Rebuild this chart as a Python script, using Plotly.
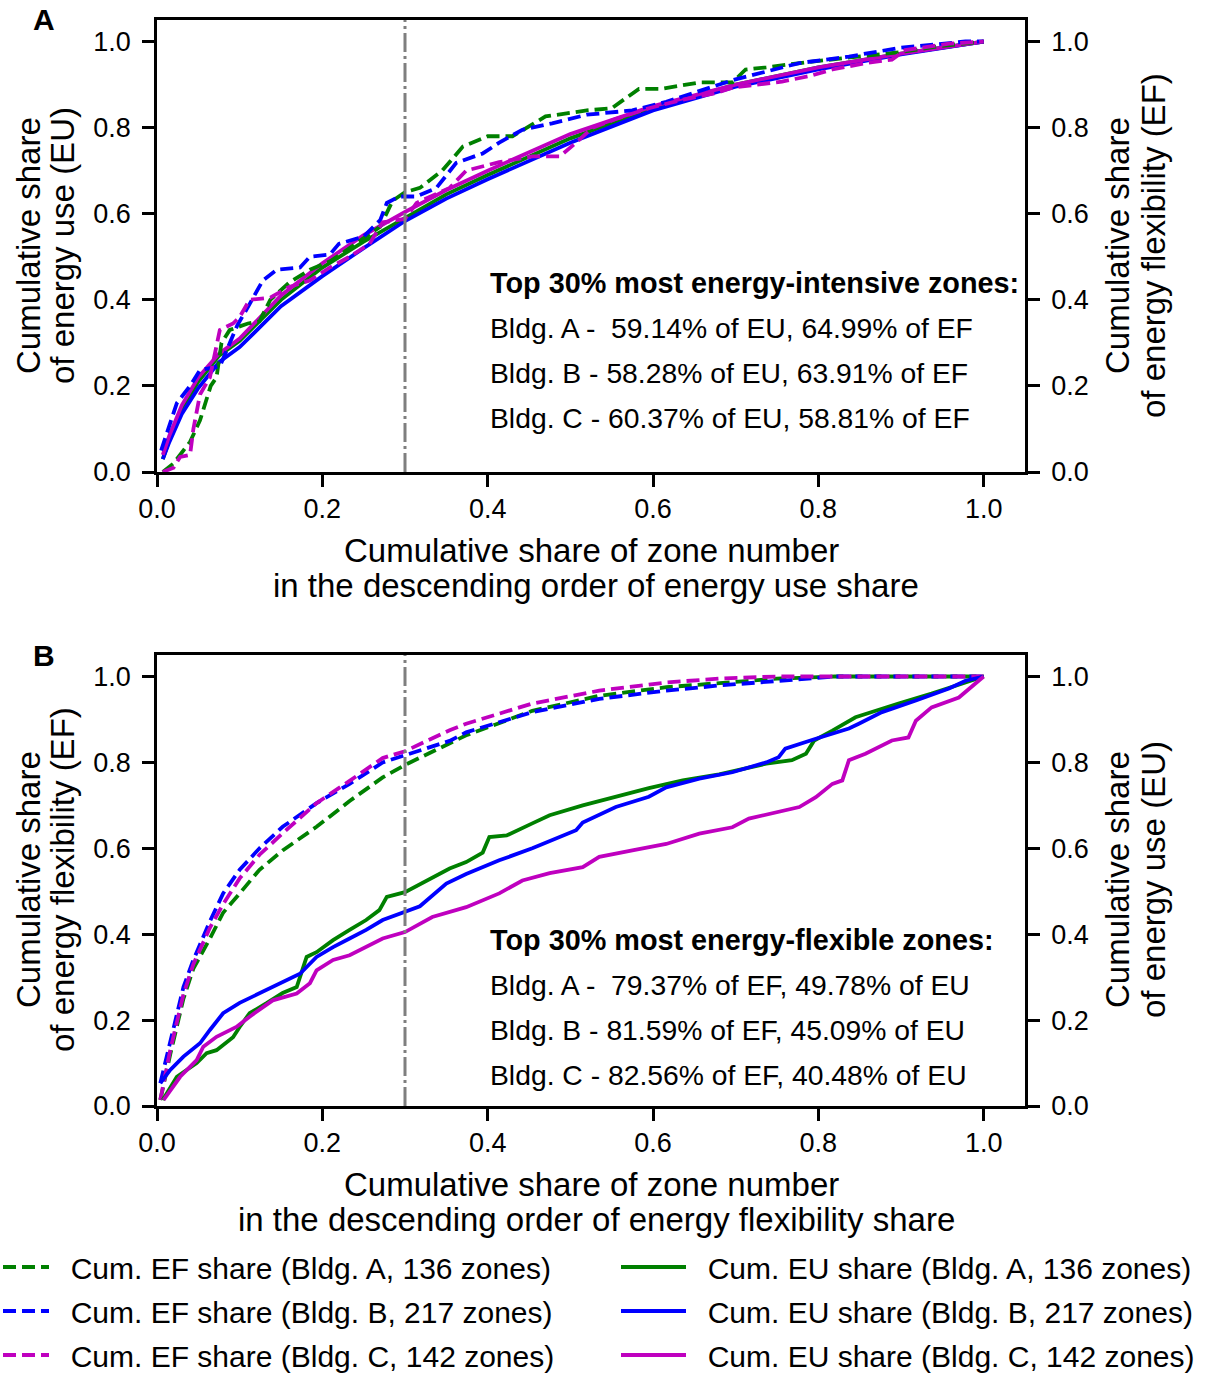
import plotly.graph_objects as go

W, H = 1206, 1375
FONT = "Liberation Sans, Arial, sans-serif"
GREEN, BLUE, MAG = "#008000", "#0000ff", "#bf00bf"

# ---------------- Panel A: EU (solid) ----------------
a_eu_x = [0.007, 0.015, 0.03, 0.05, 0.075, 0.1, 0.15, 0.2, 0.25, 0.3, 0.35, 0.4, 0.5, 0.6, 0.7, 0.8, 0.9, 1.0]
a_eu_A = [0.03, 0.075, 0.145, 0.21, 0.27, 0.305, 0.40, 0.475, 0.535, 0.591, 0.645, 0.69, 0.775, 0.845, 0.90, 0.94, 0.972, 1.0]
a_eu_B = [0.03, 0.07, 0.135, 0.195, 0.255, 0.29, 0.385, 0.455, 0.52, 0.583, 0.635, 0.68, 0.765, 0.84, 0.895, 0.935, 0.97, 1.0]
a_eu_C = [0.04, 0.085, 0.155, 0.22, 0.275, 0.31, 0.41, 0.485, 0.55, 0.604, 0.655, 0.70, 0.785, 0.85, 0.90, 0.94, 0.972, 1.0]

# ---------------- Panel A: EF (dashed) ----------------
a_ef_A_x = [0.007, 0.02, 0.04, 0.052, 0.065, 0.072, 0.078, 0.088, 0.11, 0.124, 0.137, 0.16, 0.185, 0.21, 0.233, 0.27, 0.285, 0.3,
            0.318, 0.345, 0.37, 0.40, 0.43, 0.47, 0.52, 0.55, 0.583, 0.61, 0.656, 0.696, 0.712, 0.737, 0.79, 0.85, 0.897, 0.95, 1.0]
a_ef_A_y = [0.0, 0.02, 0.07, 0.12, 0.20, 0.22, 0.30, 0.33, 0.345, 0.35, 0.40, 0.44, 0.47, 0.49, 0.52, 0.57, 0.63, 0.65,
            0.66, 0.70, 0.756, 0.78, 0.78, 0.826, 0.84, 0.845, 0.89, 0.89, 0.905, 0.905, 0.935, 0.94, 0.953, 0.965, 0.975, 0.99, 1.0]

a_ef_B_x = [0.005, 0.024, 0.04, 0.052, 0.076, 0.097, 0.112, 0.128, 0.145, 0.173, 0.185, 0.209, 0.22, 0.25, 0.27, 0.278, 0.293,
            0.314, 0.338, 0.362, 0.394, 0.414, 0.442, 0.478, 0.52, 0.575, 0.616, 0.656, 0.696, 0.777, 0.837, 0.897, 0.978, 1.0]
a_ef_B_y = [0.05, 0.16, 0.20, 0.237, 0.245, 0.34, 0.39, 0.445, 0.47, 0.475, 0.50, 0.505, 0.53, 0.547, 0.585, 0.625, 0.64,
            0.64, 0.66, 0.718, 0.74, 0.765, 0.795, 0.81, 0.83, 0.84, 0.86, 0.885, 0.91, 0.95, 0.965, 0.985, 1.0, 1.0]

a_ef_C_x = [0.007, 0.02, 0.028, 0.04, 0.044, 0.052, 0.064, 0.076, 0.092, 0.1, 0.112, 0.137, 0.16, 0.185, 0.209, 0.233, 0.257,
            0.273, 0.29, 0.3, 0.314, 0.354, 0.374, 0.414, 0.454, 0.487, 0.507, 0.527, 0.555, 0.595, 0.636, 0.676, 0.696, 0.756,
            0.79, 0.817, 0.857, 0.889, 0.905, 0.958, 1.0]
a_ef_C_y = [0.0, 0.01, 0.035, 0.04, 0.10, 0.18, 0.22, 0.33, 0.345, 0.36, 0.40, 0.405, 0.43, 0.445, 0.475, 0.50, 0.53,
            0.58, 0.585, 0.588, 0.625, 0.66, 0.70, 0.72, 0.733, 0.733, 0.765, 0.80, 0.82, 0.845, 0.865, 0.88, 0.893, 0.907,
            0.92, 0.935, 0.95, 0.958, 0.98, 0.995, 1.0]

# ---------------- Panel B: EF (dashed) ----------------
b_ef_x = [0.004, 0.016, 0.032, 0.044, 0.064, 0.08, 0.1, 0.124, 0.152, 0.193, 0.233, 0.273, 0.3, 0.354, 0.374, 0.454,
          0.535, 0.616, 0.68, 0.75, 0.82, 0.9, 1.0]
b_ef_A = [0.014, 0.12, 0.25, 0.32, 0.39, 0.45, 0.495, 0.55, 0.595, 0.65, 0.71, 0.765, 0.794, 0.845, 0.863, 0.92,
          0.955, 0.975, 0.985, 0.995, 1.0, 1.0, 1.0]
b_ef_B = [0.053, 0.153, 0.277, 0.34, 0.43, 0.495, 0.55, 0.60, 0.65, 0.705, 0.75, 0.80, 0.816, 0.85, 0.87, 0.917,
          0.948, 0.967, 0.979, 0.99, 1.0, 1.0, 1.0]
b_ef_C = [0.014, 0.13, 0.26, 0.33, 0.415, 0.47, 0.53, 0.585, 0.635, 0.705, 0.757, 0.81, 0.826, 0.875, 0.89, 0.937,
          0.967, 0.986, 0.995, 1.0, 1.0, 1.0, 1.0]

# ---------------- Panel B: EU (solid) ----------------
b_eu_A_x = [0.007, 0.024, 0.048, 0.06, 0.072, 0.092, 0.1, 0.112, 0.133, 0.152, 0.169, 0.181, 0.193, 0.213, 0.233, 0.253,
            0.269, 0.278, 0.3, 0.326, 0.354, 0.374, 0.394, 0.402, 0.423, 0.454, 0.475, 0.515, 0.555, 0.595, 0.636, 0.68,
            0.737, 0.768, 0.785, 0.795, 0.817, 0.845, 0.897, 0.937, 0.978, 1.0]
b_eu_A_y = [0.014, 0.068, 0.10, 0.123, 0.13, 0.16, 0.184, 0.216, 0.24, 0.263, 0.277, 0.347, 0.358, 0.386, 0.41, 0.433,
            0.456, 0.487, 0.498, 0.525, 0.553, 0.568, 0.59, 0.626, 0.63, 0.658, 0.677, 0.70, 0.72, 0.74, 0.758, 0.772,
            0.797, 0.805, 0.82, 0.851, 0.874, 0.905, 0.937, 0.96, 0.986, 1.0]

b_eu_B_x = [0.004, 0.016, 0.032, 0.052, 0.064, 0.08, 0.1, 0.124, 0.152, 0.173, 0.193, 0.213, 0.233, 0.253, 0.273, 0.3,
            0.318, 0.35, 0.374, 0.414, 0.454, 0.507, 0.515, 0.555, 0.595, 0.616, 0.656, 0.696, 0.737, 0.752, 0.76,
            0.797, 0.837, 0.849, 0.877, 0.918, 0.958, 0.978, 1.0]
b_eu_B_y = [0.053, 0.084, 0.115, 0.146, 0.177, 0.216, 0.24, 0.263, 0.289, 0.308, 0.347, 0.37, 0.39, 0.41, 0.433, 0.451,
            0.465, 0.518, 0.54, 0.572, 0.60, 0.642, 0.66, 0.696, 0.72, 0.742, 0.762, 0.777, 0.80, 0.812, 0.832,
            0.855, 0.879, 0.89, 0.917, 0.944, 0.972, 0.99, 1.0]

b_eu_C_x = [0.008, 0.028, 0.048, 0.056, 0.072, 0.096, 0.112, 0.14, 0.169, 0.185, 0.193, 0.213, 0.233, 0.253, 0.273, 0.3,
            0.333, 0.374, 0.414, 0.442, 0.475, 0.515, 0.535, 0.575, 0.616, 0.656, 0.696, 0.716, 0.777, 0.797, 0.817,
            0.829, 0.837, 0.857, 0.889, 0.909, 0.918, 0.937, 0.97, 1.0]
b_eu_C_y = [0.014, 0.068, 0.107, 0.138, 0.161, 0.184, 0.208, 0.246, 0.262, 0.286, 0.316, 0.34, 0.351, 0.37, 0.39, 0.405,
            0.44, 0.463, 0.495, 0.525, 0.542, 0.556, 0.58, 0.595, 0.61, 0.634, 0.649, 0.669, 0.696, 0.719, 0.75,
            0.758, 0.805, 0.82, 0.851, 0.858, 0.897, 0.928, 0.951, 1.0]

tick_vals = [0.0, 0.2, 0.4, 0.6, 0.8, 1.0]
tick_text = ["0.0", "0.2", "0.4", "0.6", "0.8", "1.0"]

names_ef = ["Cum. EF share (Bldg. A, 136 zones)", "Cum. EF share (Bldg. B, 217 zones)", "Cum. EF share (Bldg. C, 142 zones)"]
names_eu = ["Cum. EU share (Bldg. A, 136 zones)", "Cum. EU share (Bldg. B, 217 zones)", "Cum. EU share (Bldg. C, 142 zones)"]

xtitle_A = ["Cumulative share of zone number", "in the descending order of energy use share"]
xtitle_B = ["Cumulative share of zone number", "in the descending order of energy flexibility share"]
ytitle_EU = ["Cumulative share", "of energy use (EU)"]
ytitle_EF = ["Cumulative share", "of energy flexibility (EF)"]

text_A = ["<b>Top 30% most energy-intensive zones:</b>",
          "Bldg. A -\u00a0 59.14% of EU, 64.99% of EF",
          "Bldg. B - 58.28% of EU, 63.91% of EF",
          "Bldg. C - 60.37% of EU, 58.81% of EF"]
text_B = ["<b>Top 30% most energy-flexible zones:</b>",
          "Bldg. A -\u00a0 79.37% of EF, 49.78% of EU",
          "Bldg. B - 81.59% of EF, 45.09% of EU",
          "Bldg. C - 82.56% of EF, 40.48% of EU"]

DASH = "13px,6px"
LW = 3.8
PAD = "\u00a0\u00a0"

fig = go.Figure()


def add(x, y, color, dash, xa, ya, name, legend, show):
    fig.add_trace(go.Scatter(x=x, y=y, mode="lines", name=PAD + name, legend=legend, showlegend=show,
                             legendgroup=name, line=dict(color=color, width=LW, dash=dash), xaxis=xa, yaxis=ya))


cols = [GREEN, BLUE, MAG]
# Panel A: EU on left axis (y), EF on right axis (y2, drawn on top)
for yv, c, n in zip([a_eu_A, a_eu_B, a_eu_C], cols, names_eu):
    add(a_eu_x, yv, c, "solid", "x", "y", n, "legend2", True)
for xv, yv, c, n in zip([a_ef_A_x, a_ef_B_x, a_ef_C_x], [a_ef_A_y, a_ef_B_y, a_ef_C_y], cols, names_ef):
    add(xv, yv, c, DASH, "x", "y2", n, "legend", True)
# Panel B: EF on left axis (y3), EU on right axis (y4)
for yv, c, n in zip([b_ef_A, b_ef_B, b_ef_C], cols, names_ef):
    add(b_ef_x, yv, c, DASH, "x2", "y3", n, "legend", False)
for xv, yv, c, n in zip([b_eu_A_x, b_eu_B_x, b_eu_C_x], [b_eu_A_y, b_eu_B_y, b_eu_C_y], cols, names_eu):
    add(xv, yv, c, "solid", "x2", "y4", n, "legend2", False)

XDOM = [157 / W, 1025 / W]
YDOM_A = [1 - 472 / H, 1 - 20 / H]
YDOM_B = [1 - 1106 / H, 1 - 655 / H]

TICKFONT = dict(family=FONT, size=27, color="black")

common = dict(range=[0, 1.05], tickvals=tick_vals, ticktext=tick_text, showgrid=False, zeroline=False,
              showline=True, linewidth=2.5, linecolor="black", ticks="outside", ticklen=12, tickwidth=2.5,
              tickcolor="black", tickfont=TICKFONT, automargin=False)
xcommon = dict(common, ticklabelstandoff=-1, mirror=True, domain=XDOM)
ycommon = dict(common, ticklabelstandoff=6)

fig.update_layout(
    width=W, height=H, margin=dict(l=0, r=0, t=0, b=0, autoexpand=False),
    paper_bgcolor="white", plot_bgcolor="white",
    font=dict(family=FONT, color="black"),
    xaxis=dict(xcommon, anchor="y"),
    yaxis=dict(ycommon, domain=YDOM_A, anchor="x"),
    yaxis2=dict(ycommon, overlaying="y", side="right", anchor="x"),
    xaxis2=dict(xcommon, anchor="y3"),
    yaxis3=dict(ycommon, domain=YDOM_B, anchor="x2"),
    yaxis4=dict(ycommon, overlaying="y3", side="right", anchor="x2"),
    legend=dict(x=-21 / W, y=1 - 1241 / H, xanchor="left", yanchor="top", orientation="v",
                font=dict(family=FONT, size=30, color="black"), tracegroupgap=2, bgcolor="rgba(0,0,0,0)",
                itemwidth=65),
    legend2=dict(x=616 / W, y=1 - 1241 / H, xanchor="left", yanchor="top", orientation="v",
                 font=dict(family=FONT, size=30, color="black"), tracegroupgap=2, bgcolor="rgba(0,0,0,0)",
                 itemwidth=65),
)

# vertical 30% markers
for xr, yr in [("x", "y domain"), ("x2", "y3 domain")]:
    fig.add_shape(type="line", xref=xr, yref=yr, x0=0.3, x1=0.3, y0=0, y1=1,
                  line=dict(color="#7f7f7f", width=3, dash="19px,4px,3px,4px"))


def ann(text, xpx, ypx, size, angle=0, xanchor="center"):
    fig.add_annotation(x=xpx / W, y=1 - ypx / H, xref="paper", yref="paper", text=text, showarrow=False,
                       xanchor=xanchor, yanchor="middle", textangle=angle,
                       font=dict(family=FONT, size=size, color="black"))


# axis titles (two lines each)
ann(xtitle_A[0], 591, 550, 33)
ann(xtitle_A[1], 596, 585, 33)
ann(xtitle_B[0], 591, 1184, 33)
ann(xtitle_B[1], 596, 1219, 33)
for lines, xs, yc in [(ytitle_EU, (28, 62), 246), (ytitle_EF, (1117, 1153), 246),
                      (ytitle_EF, (28, 62), 880), (ytitle_EU, (1117, 1153), 880)]:
    ann(lines[0], xs[0], yc, 33, angle=-90)
    ann(lines[1], xs[1], yc, 33, angle=-90)

# text blocks
for i, t in enumerate(text_A):
    ann(t, 488, 283 + 45 * i, 28.8 if i == 0 else 28.3, xanchor="left")
for i, t in enumerate(text_B):
    ann(t, 488, 940 + 45 * i, 28.8 if i == 0 else 28.3, xanchor="left")

# panel labels
ann("<b>A</b>", 44, 20, 30)
ann("<b>B</b>", 44, 655, 30)

fig.write_html("out.html")
